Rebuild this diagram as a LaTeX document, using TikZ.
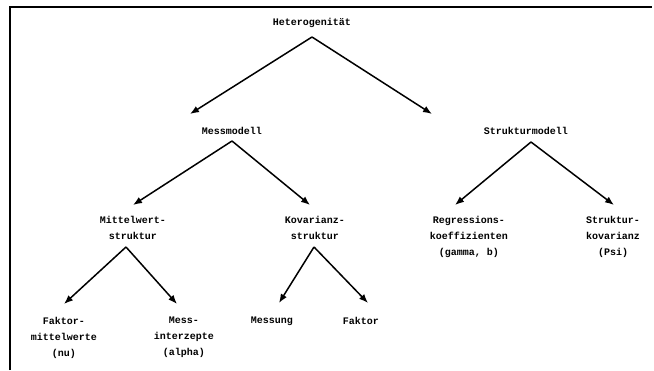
\documentclass[tikz,border=0pt]{standalone}
\usepackage{fontspec}
\setmonofont{Liberation Mono}
\usetikzlibrary{arrows.meta, calc}

\begin{document}
\begin{tikzpicture}[
    x=1pt, y=-1pt,
    lbl/.style={font=\ttfamily\bfseries\fontsize{10}{16}\selectfont,
                align=center, anchor=north, inner sep=0pt},
    arr/.style={-{Latex[length=9pt, width=7pt]}, line width=1.5pt}
  ]
  \useasboundingbox (0,0) rectangle (654,370);
  \draw[line width=1.5pt] (10,370) -- (10,7) -- (652,7);

  \node[lbl] (het)     at (312,18)  {Heterogenität};
  \node[lbl] (mess)    at (232,127) {Messmodell};
  \node[lbl] (struk)   at (526,127) {Strukturmodell};
  \node[lbl] (mittel)  at (133,216) {Mittelwert-\\struktur};
  \node[lbl] (kovar)   at (315,216) {Kovarianz-\\struktur};
  \node[lbl] (regr)    at (469,216) {Regressions-\\koeffizienten\\(gamma, b)};
  \node[lbl] (skov)    at (613,216) {Struktur-\\kovarianz\\(Psi)};
  \node[lbl] (fmw)     at (64,317)  {Faktor-\\mittelwerte\\(nu)};
  \node[lbl] (mint)    at (184,317) {Mess-\\interzepte\\(alpha)};
  \node[lbl] (messung) at (272,317) {Messung};
  \node[lbl] (faktor)  at (361,317) {Faktor};

  \draw[arr] ($(het.north)+(0,19)$) -- ($(mess.north)+(-42,-13)$);
  \draw[arr] ($(het.north)+(0,19)$) -- ($(struk.north)+(-94,-13)$);
  \draw[arr] ($(mess.north)+(0,14)$) -- ($(mittel.north)+(0,-11)$);
  \draw[arr] ($(mess.north)+(0,14)$) -- ($(kovar.north)+(-5,-11)$);
  \draw[arr] ($(struk.north)+(5,15)$) -- ($(regr.north)+(-14,-11)$);
  \draw[arr] ($(struk.north)+(5,15)$) -- ($(skov.north)+(1,-11)$);
  \draw[arr] ($(mittel.north)+(-7,31)$) -- ($(fmw.north)+(0,-13)$);
  \draw[arr] ($(mittel.north)+(-7,31)$) -- ($(mint.north)+(-7,-13)$);
  \draw[arr] ($(kovar.north)+(-1,31)$) -- ($(messung.north)+(7,-14)$);
  \draw[arr] ($(kovar.north)+(-1,31)$) -- ($(faktor.north)+(7,-14)$);
\end{tikzpicture}
\end{document}
